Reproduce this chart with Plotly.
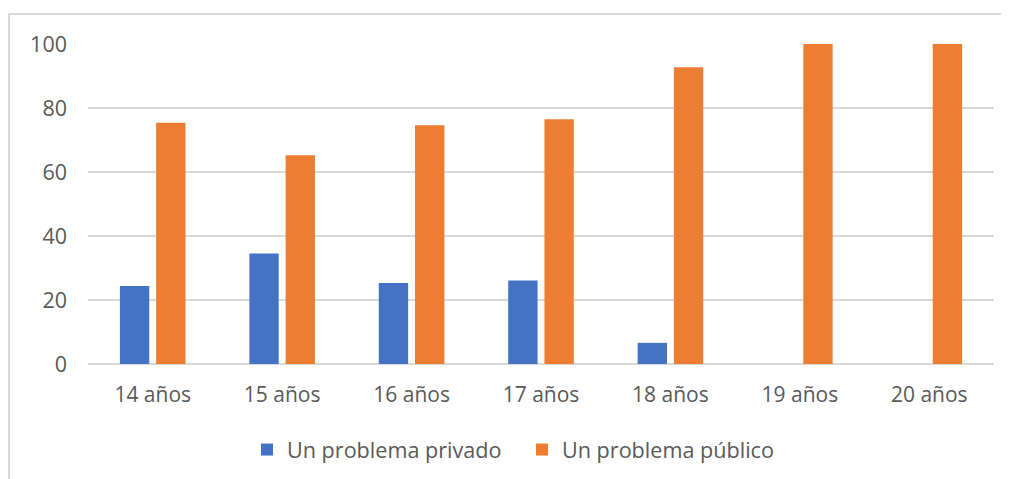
import plotly.graph_objects as go

categories = ["14 años", "15 años", "16 años", "17 años", "18 años", "19 años", "20 años"]
privado = [24.4, 34.5, 25.3, 26.1, 6.6, 0, 0]
publico = [75.4, 65.2, 74.6, 76.5, 92.7, 100, 100]
series_names = ["Un problema privado", "Un problema público"]
y_ticks = [0, 20, 40, 60, 80, 100]

FONT = "Open Sans"
GRAY = "#595959"

# page body has an 8px margin; work in figure coordinates
OFF = 8
W, H = 1009 - OFF, 479 - OFF
L, R, T, B = 88 - OFF, 994 - OFF, 44 - OFF, 364 - OFF
PW, PH = R - L, B - T

fig = go.Figure()
fig.add_trace(go.Bar(x=categories, y=privado, name=series_names[0],
                     marker=dict(color="#4472C4", line=dict(width=0))))
fig.add_trace(go.Bar(x=categories, y=publico, name=series_names[1],
                     marker=dict(color="#ED7D31", line=dict(width=0))))

fig.update_layout(
    width=W, height=H,
    margin=dict(l=L, r=W - R, t=T, b=H - B, autoexpand=False),
    paper_bgcolor="white", plot_bgcolor="white",
    font=dict(family=FONT, size=21, color=GRAY),
    barmode="group", bargap=0.44, bargroupgap=0.19,
    showlegend=True,
    legend=dict(orientation="h", x=(247 - OFF - L) / PW, xanchor="left",
                y=-(450 - OFF - B) / PH, yanchor="middle",
                font=dict(family=FONT, size=21.6, color=GRAY),
                entrywidth=230, entrywidthmode="pixels",
                traceorder="normal"),
    shapes=[dict(type="rect", xref="paper", yref="paper",
                 x0=(1 - L) / PW, x1=(W + 30 - L) / PW,
                 y0=-(H + 30 - B) / PH, y1=(B - 6) / PH,
                 line=dict(color="#d9d9d9", width=2), layer="below")],
)
fig.update_xaxes(showgrid=False, showline=False, ticks="", automargin=False,
                 ticklabelstandoff=16, tickfont=dict(size=21, color=GRAY))
fig.update_yaxes(range=[0, 100], tickvals=y_ticks, showgrid=True, gridcolor="#d9d9d9", gridwidth=1.5,
                 zeroline=True, zerolinecolor="#d9d9d9", zerolinewidth=1.5, automargin=False,
                 showline=False, ticks="", ticklabelstandoff=20, tickfont=dict(size=21.5, color=GRAY))

fig.write_html("out.html")
